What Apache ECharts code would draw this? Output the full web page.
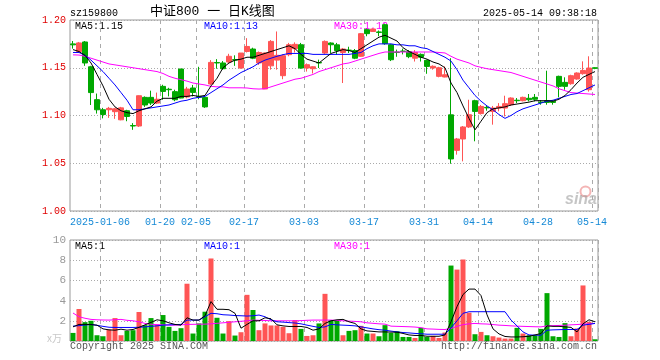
<!DOCTYPE html>
<html>
<head>
<meta charset="utf-8">
<script src="https://cdn.jsdelivr.net/npm/echarts@6/dist/echarts.min.js"></script>
<style>
html,body{margin:0;padding:0;background:#fff;}
#c{width:660px;height:360px;}
</style>
</head>
<body>
<div id="c"></div>
<script>
var dates = ['2024-12-27','2024-12-30','2024-12-31','2025-01-02','2025-01-03',
'2025-01-06','2025-01-07','2025-01-08','2025-01-09','2025-01-10',
'2025-01-13','2025-01-14','2025-01-15','2025-01-16','2025-01-17',
'2025-01-20','2025-01-21','2025-01-22','2025-01-23','2025-01-24',
'2025-01-27','2025-02-05','2025-02-06','2025-02-07','2025-02-10',
'2025-02-11','2025-02-12','2025-02-13','2025-02-14','2025-02-17',
'2025-02-18','2025-02-19','2025-02-20','2025-02-21','2025-02-24',
'2025-02-25','2025-02-26','2025-02-27','2025-02-28','2025-03-03',
'2025-03-04','2025-03-05','2025-03-06','2025-03-07','2025-03-10',
'2025-03-11','2025-03-12','2025-03-13','2025-03-14','2025-03-17',
'2025-03-18','2025-03-19','2025-03-20','2025-03-21','2025-03-24',
'2025-03-25','2025-03-26','2025-03-27','2025-03-28','2025-03-31',
'2025-04-01','2025-04-02','2025-04-03','2025-04-07','2025-04-08',
'2025-04-09','2025-04-10','2025-04-11','2025-04-14','2025-04-15',
'2025-04-16','2025-04-17','2025-04-18','2025-04-21','2025-04-22',
'2025-04-23','2025-04-24','2025-04-25','2025-04-28','2025-04-29',
'2025-04-30','2025-05-06','2025-05-07','2025-05-08','2025-05-09',
'2025-05-12','2025-05-13','2025-05-14'];

var opens = [1.175,1.167,1.177,1.151,1.1166,1.106,1.106,1.104,1.0955,1.105,
1.0895,1.089,1.119,1.119,1.113,1.1305,1.1275,1.125,1.1487,1.1194,
1.1288,1.120,1.119,1.133,1.1555,1.155,1.156,1.1585,1.1497,1.167,
1.1696,1.155,1.1278,1.152,1.158,1.1417,1.1637,1.170,1.1741,1.1497,
1.149,1.1555,1.1654,1.1759,1.174,1.166,1.1685,1.168,1.162,1.1899,
1.188,1.1875,1.1951,1.1741,1.1665,1.1675,1.1668,1.160,1.164,1.1577,
1.1498,1.141,1.1403,1.1007,1.0635,1.0754,1.088,1.1155,1.102,1.1085,
1.1043,1.1078,1.1078,1.1113,1.116,1.1155,1.118,1.119,1.114,1.1155,
1.115,1.141,1.1347,1.1333,1.1382,1.1438,1.127,1.150];

var closes = [1.174,1.176,1.155,1.124,1.106,1.101,1.1075,1.107,1.108,1.099,
1.089,1.1207,1.111,1.113,1.117,1.1252,1.127,1.1165,1.1183,1.1277,
1.1242,1.119,1.109,1.1556,1.155,1.149,1.162,1.158,1.1654,1.1723,
1.160,1.166,1.1654,1.1776,1.163,1.1626,1.1741,1.1745,1.1497,1.1532,
1.151,1.155,1.1776,1.1741,1.168,1.1696,1.168,1.160,1.1857,1.1857,
1.1906,1.187,1.1752,1.1584,1.166,1.167,1.1616,1.166,1.161,1.1514,
1.1515,1.150,1.1427,1.0545,1.0754,1.088,1.1008,1.1043,1.1095,1.108,
1.1078,1.1095,1.1124,1.1183,1.1155,1.119,1.1165,1.117,1.1137,1.1137,
1.1137,1.1305,1.1305,1.1417,1.1445,1.1472,1.1497,1.1494];

var lows = [1.170,1.166,1.152,1.111,1.102,1.097,1.0975,1.0965,1.095,1.094,
1.085,1.088,1.109,1.111,1.112,1.1165,1.120,1.115,1.118,1.118,
1.120,1.117,1.108,1.132,1.149,1.148,1.155,1.152,1.149,1.166,
1.159,1.153,1.1278,1.148,1.148,1.138,1.162,1.166,1.149,1.146,
1.144,1.1497,1.164,1.1654,1.1637,1.134,1.1654,1.159,1.1615,1.183,
1.1875,1.183,1.1741,1.157,1.1615,1.164,1.160,1.1565,1.1565,1.1437,
1.148,1.140,1.140,1.0495,1.059,1.052,1.087,1.073,1.101,1.105,
1.0904,1.1043,1.099,1.110,1.113,1.1148,1.1148,1.1148,1.1113,1.1113,
1.1113,1.119,1.127,1.1322,1.1375,1.1427,1.125,1.1485];

var highs = [1.178,1.177,1.178,1.152,1.123,1.108,1.109,1.108,1.109,1.106,
1.092,1.121,1.12,1.126,1.124,1.1322,1.129,1.127,1.1487,1.130,
1.132,1.151,1.1195,1.158,1.159,1.157,1.1646,1.163,1.1654,1.181,
1.171,1.167,1.166,1.179,1.188,1.164,1.176,1.1766,1.176,1.1545,
1.1515,1.1585,1.1786,1.1766,1.176,1.1707,1.172,1.1696,1.1864,1.191,
1.191,1.189,1.1962,1.175,1.169,1.170,1.1685,1.1685,1.165,1.1585,
1.1525,1.151,1.1514,1.160,1.0765,1.089,1.1165,1.1165,1.111,1.110,
1.110,1.113,1.1207,1.119,1.1183,1.1197,1.1225,1.1225,1.116,1.1469,
1.116,1.1417,1.140,1.1427,1.1452,1.1567,1.162,1.1505];

var volumes = [0.8,3.17,1.87,2.0,0.57,0.47,1.14,2.27,0.57,1.0,
1.07,2.87,1.57,2.27,1.64,2.57,1.4,1.0,1.27,5.67,
0.74,1.74,2.9,8.17,2.3,0.74,1.97,0.54,0.87,4.57,
3.07,1.07,1.74,1.54,1.54,1.4,0.77,2.07,1.2,0.5,
0.57,1.74,4.67,2.07,2.0,0.57,1.0,1.07,1.5,0.74,
0.74,0.47,1.57,0.8,0.97,0.4,0.4,0.3,1.3,0.4,
0.5,0.3,0.84,7.47,7.07,8.07,2.8,0.67,0.9,0.57,
0.47,0.34,0.24,0.24,1.3,0.74,0.57,0.57,1.2,4.74,
0.47,0.4,1.77,0.47,1.24,5.5,1.9,0.17];

var ma5 = [1.169,1.167,1.163,1.155,1.143,1.131,1.117,1.109,1.105,1.103,
1.102,1.105,1.107,1.109,1.115,1.118,1.118,1.118,1.120,1.120,
1.121,1.120,1.121,1.131,1.139,1.150,1.155,1.158,1.159,1.161,
1.161,1.163,1.165,1.167,1.169,1.171,1.173,1.170,1.164,1.159,
1.157,1.155,1.160,1.165,1.167,1.169,1.168,1.166,1.170,1.174,
1.178,1.182,1.184,1.181,1.178,1.171,1.167,1.164,1.161,1.159,
1.156,1.154,1.150,1.134,1.124,1.110,1.097,1.085,1.094,1.103,
1.107,1.108,1.109,1.111,1.112,1.113,1.114,1.1155,1.1155,1.1155,
1.115,1.117,1.121,1.127,1.134,1.140,1.143,1.146];

var ma10 = [1.166,1.166,1.163,1.158,1.152,1.146,1.139,1.132,1.124,1.116,
1.106,1.106,1.107,1.108,1.109,1.110,1.111,1.113,1.115,1.116,
1.118,1.119,1.120,1.124,1.128,1.132,1.137,1.141,1.145,1.148,
1.151,1.155,1.158,1.160,1.162,1.1637,1.165,1.165,1.165,1.165,
1.164,1.164,1.164,1.164,1.164,1.164,1.164,1.165,1.166,1.170,
1.173,1.175,1.175,1.175,1.174,1.174,1.173,1.173,1.171,1.170,
1.167,1.164,1.161,1.157,1.148,1.137,1.129,1.121,1.115,1.110,
1.106,1.101,1.097,1.100,1.104,1.107,1.109,1.111,1.113,1.115,
1.116,1.118,1.120,1.122,1.123,1.126,1.129,1.132];

var ma30 = [1.1635,1.1633,1.162,1.160,1.158,1.156,1.154,1.153,1.152,1.151,
1.150,1.149,1.148,1.147,1.146,1.144,1.141,1.139,1.1375,1.136,
1.134,1.133,1.132,1.1305,1.130,1.130,1.129,1.129,1.129,1.1288,
1.128,1.1277,1.128,1.130,1.132,1.134,1.136,1.138,1.139,1.141,
1.143,1.146,1.148,1.150,1.152,1.154,1.155,1.157,1.159,1.161,
1.163,1.165,1.1665,1.1665,1.1665,1.1665,1.1665,1.1665,1.1665,1.1665,
1.1665,1.166,1.1655,1.162,1.159,1.157,1.155,1.152,1.1504,1.149,
1.148,1.147,1.146,1.145,1.143,1.141,1.139,1.137,1.135,1.133,
1.131,1.128,1.126,1.124,1.1235,1.123,1.1225,1.122];

var volMa5 = [1.4,1.64,1.65,1.62,1.57,1.2,1.1,1.07,1.17,1.07,
1.14,1.35,1.6,1.84,2.1,2.0,1.8,1.64,1.57,2.3,
2.07,2.07,2.5,3.9,3.14,3.14,3.1,2.74,1.27,1.64,
2.0,2.0,2.3,2.2,1.6,1.5,1.44,1.44,1.44,1.34,
1.07,1.2,1.74,2.0,2.1,2.14,1.9,1.74,1.2,1.0,
0.95,0.9,0.9,0.88,0.87,0.75,0.6,0.55,0.55,0.47,
0.47,0.47,0.6,1.9,3.4,4.6,5.14,5.14,4.5,2.6,
1.2,0.7,0.45,0.4,0.4,0.42,0.47,0.6,0.74,1.5,
1.45,1.45,1.4,1.35,0.9,1.7,2.1,1.9];

var volMa10 = [1.47,1.52,1.58,1.64,1.55,1.45,1.36,1.34,1.34,1.34,
1.34,1.36,1.4,1.45,1.5,1.57,1.6,1.62,1.64,2.07,
2.07,2.07,2.4,2.74,2.7,2.6,2.57,2.52,2.5,2.47,
2.5,2.57,2.4,2.1,1.9,1.87,1.82,1.78,1.7,1.57,
1.45,1.34,1.4,1.64,1.6,1.57,1.54,1.5,1.4,1.3,
1.2,1.12,1.07,0.98,0.9,0.84,0.8,0.75,0.72,0.67,
0.67,0.67,0.67,1.3,2.0,2.74,2.9,2.9,2.9,2.9,
2.9,2.9,2.9,2.07,1.5,0.9,0.6,0.58,0.57,1.07,
1.1,1.12,1.14,1.14,1.14,1.57,1.65,1.74];

var volMa30 = [2.77,2.4,2.25,2.14,2.1,2.08,2.07,2.1,2.14,2.05,
2.0,1.9,1.74,1.66,1.62,1.6,1.57,1.57,1.6,1.64,
1.65,1.66,1.67,1.7,1.75,1.8,1.85,1.9,1.95,2.0,
2.07,2.05,2.03,2.0,2.0,2.0,2.0,2.0,2.02,2.05,
2.07,2.07,2.07,2.07,2.04,2.0,1.97,1.94,1.9,1.8,
1.75,1.7,1.67,1.47,1.45,1.43,1.41,1.38,1.32,1.2,
1.18,1.15,1.14,1.24,1.45,1.62,1.7,1.74,1.7,1.68,
1.63,1.57,1.54,1.5,1.47,1.45,1.43,1.41,1.4,1.5,
1.52,1.54,1.56,1.6,1.63,1.67,1.7,1.74];

var tickDates = ['2025-01-06','2025-01-20','2025-02-05','2025-02-17','2025-03-03',
'2025-03-17','2025-03-31','2025-04-14','2025-04-28','2025-05-14'];
var tickLabels = ['2025-01-06','01-20','02-05','02-17','03-03',
'03-17','03-31','04-14','04-28','05-14'];

var priceTicks = [1.00, 1.05, 1.10, 1.15, 1.20];
var volTicks = [0, 2, 4, 6, 8, 10];

var UP = '#ff5555', DOWN = '#00a800';
var MONO = '"Liberation Mono","DejaVu Sans Mono",monospace';

var kData = dates.map(function (d, i) { return [opens[i], closes[i], lows[i], highs[i]]; });
function isTick(i, v) { return tickDates.indexOf(v) >= 0; }

var chart = echarts.init(document.getElementById('c'), null, { renderer: 'canvas' });

var xBase = {
  type: 'category', data: dates, boundaryGap: true,
  axisLine: { show: false }, axisTick: { show: false },
  splitLine: { show: true, interval: isTick, lineStyle: { color: '#aaaaaa', type: [4, 4], width: 1 } }
};

var option = {
  animation: false,
  backgroundColor: '#ffffff',
  grid: [
    { left: 70, right: 62, top: 20, height: 191, show: true, borderColor: '#999999', borderWidth: 1, backgroundColor: 'transparent' },
    { left: 70, right: 62, top: 240, height: 101, show: true, borderColor: '#999999', borderWidth: 1, backgroundColor: 'transparent' }
  ],
  xAxis: [
    Object.assign({}, xBase, {
      gridIndex: 0,
      axisLabel: {
        show: true, interval: isTick, color: '#1589d6', fontFamily: MONO, fontSize: 10, margin: 6,
        padding: [0, 6, 0, 0],
        formatter: function (v) { return tickLabels[tickDates.indexOf(v)]; }
      }
    }),
    Object.assign({}, xBase, { gridIndex: 1, axisLabel: { show: false } })
  ],
  yAxis: [
    {
      gridIndex: 0, type: 'value', min: priceTicks[0], max: priceTicks[priceTicks.length - 1], interval: 0.05,
      axisLine: { show: false }, axisTick: { show: false },
      axisLabel: { color: '#e00000', fontFamily: MONO, fontSize: 10, margin: 4, formatter: function (v) { return v.toFixed(2); } },
      splitLine: { show: true, lineStyle: { color: '#aaaaaa', type: [1, 2], width: 1 } }
    },
    {
      gridIndex: 1, type: 'value', min: volTicks[0], max: volTicks[volTicks.length - 1], interval: 2,
      axisLine: { show: false }, axisTick: { show: false },
      axisLabel: { color: '#999999', fontFamily: MONO, fontSize: 11, margin: 4, formatter: function (v) { return v === 0 ? '' : String(v); } },
      splitLine: { show: true, lineStyle: { color: '#aaaaaa', type: [1, 2], width: 1 } }
    }
  ],
  series: [
    {
      type: 'candlestick', xAxisIndex: 0, yAxisIndex: 0, data: kData, barWidth: 5,
      itemStyle: { color: UP, color0: DOWN, borderColor: UP, borderColor0: DOWN, borderWidth: 1 }
    },
    { type: 'line', xAxisIndex: 0, yAxisIndex: 0, data: ma30, symbol: 'none', lineStyle: { color: '#ff00ff', width: 1 } },
    { type: 'line', xAxisIndex: 0, yAxisIndex: 0, data: ma10, symbol: 'none', lineStyle: { color: '#0000ff', width: 1 } },
    { type: 'line', xAxisIndex: 0, yAxisIndex: 0, data: ma5, symbol: 'none', lineStyle: { color: '#000000', width: 1 } },
    {
      type: 'bar', xAxisIndex: 1, yAxisIndex: 1, data: volumes, barWidth: 5,
      itemStyle: { color: function (p) { return closes[p.dataIndex] >= opens[p.dataIndex] ? UP : DOWN; } }
    },
    { type: 'line', xAxisIndex: 1, yAxisIndex: 1, data: volMa30, symbol: 'none', lineStyle: { color: '#ff00ff', width: 1 } },
    { type: 'line', xAxisIndex: 1, yAxisIndex: 1, data: volMa10, symbol: 'none', lineStyle: { color: '#0000ff', width: 1 } },
    { type: 'line', xAxisIndex: 1, yAxisIndex: 1, data: volMa5, symbol: 'none', lineStyle: { color: '#000000', width: 1 } }
  ],
  graphic: [
    { type: 'text', left: 70, top: 8, style: { text: 'sz159800', font: '10px ' + MONO, fill: '#000' } },
    { type: 'text', left: 150, top: 5, style: { text: '中证800 一 日K线图', font: '13px "Liberation Mono","Noto Sans CJK SC"', fill: '#000' } },
    { type: 'text', right: 63, top: 8, style: { text: '2025-05-14 09:38:18', font: '10px ' + MONO, fill: '#000' } },
    { type: 'text', left: 75, top: 21, style: { text: 'MA5:1.15', font: '10px ' + MONO, fill: '#000000' } },
    { type: 'text', left: 204, top: 21, style: { text: 'MA10:1.13', font: '10px ' + MONO, fill: '#0000ff' } },
    { type: 'text', left: 334, top: 21, style: { text: 'MA30:1.12', font: '10px ' + MONO, fill: '#ff00ff' } },
    { type: 'text', left: 75, top: 241, style: { text: 'MA5:1', font: '10px ' + MONO, fill: '#000000' } },
    { type: 'text', left: 204, top: 241, style: { text: 'MA10:1', font: '10px ' + MONO, fill: '#0000ff' } },
    { type: 'text', left: 334, top: 241, style: { text: 'MA30:1', font: '10px ' + MONO, fill: '#ff00ff' } },
    { type: 'text', left: 47, top: 333, style: { text: 'x万', font: '10px "Noto Sans CJK SC"', fill: '#c8c8c8' } },
    { type: 'text', left: 70, top: 341, style: { text: 'Copyright 2025 SINA.COM', font: '10px ' + MONO, fill: '#555555' } },
    { type: 'text', right: 63, top: 341, style: { text: 'http://finance.sina.com.cn', font: '10px ' + MONO, fill: '#555555' } },
    { type: 'circle', left: 578, top: 184, shape: { r: 5 }, style: { fill: 'none', stroke: 'rgba(230,90,90,0.45)', lineWidth: 2 } },
    { type: 'text', left: 565, top: 192, style: { text: 'sina', font: 'italic bold 16px "Liberation Sans"', fill: 'rgba(150,150,150,0.55)' } }
  ]
};
chart.setOption(option);
</script>
</body>
</html>
